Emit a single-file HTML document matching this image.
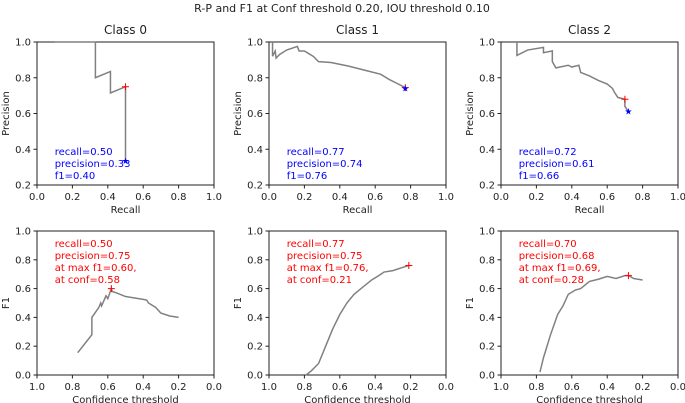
<!DOCTYPE html>
<html><head><meta charset="utf-8"><style>
body{margin:0;background:#fff}
svg{display:block;font-family:"DejaVu Sans","Liberation Sans",sans-serif}
</style></head><body>
<svg id="c" width="685" height="403" viewBox="0 0 685 403">
<text x="342" y="12" text-anchor="middle" font-size="11" fill="#222">R-P and F1  at Conf threshold 0.20, IOU threshold 0.10</text>
</svg>
<script>
const prTitles=["Class 0","Class 1","Class 2"];
const pr0=[[0.1,1.0],[0.33,1.0],[0.33,0.8],[0.415,0.835],[0.415,0.715],[0.5,0.75],[0.5,0.333]];
const pr1=[[0.02,1.0],[0.02,0.92],[0.035,0.95],[0.04,0.91],[0.06,0.93],[0.1,0.955],[0.16,0.975],[0.17,0.95],[0.2,0.95],[0.25,0.92],[0.28,0.89],[0.35,0.885],[0.45,0.865],[0.55,0.84],[0.63,0.82],[0.68,0.79],[0.72,0.77],[0.77,0.745]];
const pr2=[[0.09,1.0],[0.09,0.925],[0.15,0.955],[0.24,0.97],[0.24,0.94],[0.29,0.95],[0.29,0.89],[0.31,0.855],[0.38,0.87],[0.4,0.86],[0.44,0.87],[0.45,0.83],[0.5,0.81],[0.55,0.785],[0.6,0.765],[0.63,0.74],[0.64,0.72],[0.66,0.69],[0.7,0.68],[0.7,0.64],[0.72,0.61]];
const prRed=[[0.5,0.75],[0.77,0.745],[0.70,0.68]];
const prBlue=[[0.5,0.333],[0.77,0.74],[0.72,0.61]];
const prText=[["recall=0.50","precision=0.33","f1=0.40"],["recall=0.77","precision=0.74","f1=0.76"],["recall=0.72","precision=0.61","f1=0.66"]];
const f10=[[0.77,0.155],[0.69,0.28],[0.69,0.40],[0.65,0.47],[0.64,0.5],[0.635,0.48],[0.61,0.55],[0.6,0.53],[0.58,0.60],[0.575,0.58],[0.55,0.57],[0.5,0.545],[0.4,0.525],[0.38,0.52],[0.37,0.50],[0.33,0.47],[0.3,0.43],[0.25,0.41],[0.2,0.40]];
const f11=[[0.79,0.0],[0.76,0.03],[0.72,0.08],[0.68,0.2],[0.64,0.32],[0.6,0.42],[0.56,0.5],[0.52,0.56],[0.48,0.6],[0.42,0.66],[0.38,0.69],[0.35,0.715],[0.3,0.725],[0.25,0.745],[0.21,0.76]];
const f12=[[0.78,0.02],[0.76,0.12],[0.72,0.28],[0.68,0.42],[0.65,0.48],[0.62,0.56],[0.58,0.59],[0.55,0.6],[0.5,0.65],[0.45,0.665],[0.4,0.685],[0.35,0.67],[0.3,0.69],[0.28,0.69],[0.25,0.67],[0.2,0.66]];
const f1Max=[[0.58,0.60],[0.21,0.76],[0.28,0.69]];
const f1Text=[["recall=0.50","precision=0.75","at max f1=0.60,","at conf=0.58"],["recall=0.77","precision=0.75","at max f1=0.76,","at conf=0.21"],["recall=0.70","precision=0.68","at max f1=0.69,","at conf=0.28"]];
const xTicks=["0.0","0.2","0.4","0.6","0.8","1.0"];
const xTicksRev=["1.0","0.8","0.6","0.4","0.2","0.0"];
const prYTicks=["0.2","0.4","0.6","0.8","1.0"];
const f1YTicks=["0.0","0.2","0.4","0.6","0.8","1.0"];

const svg=document.getElementById('c');
const NS='http://www.w3.org/2000/svg';
function mk(tag,attrs,parent){const e=document.createElementNS(NS,tag);for(const k in attrs)e.setAttribute(k,attrs[k]);(parent||svg).appendChild(e);return e;}
const lefts=[37,269,501], W=177;
const prSeries=[pr0,pr1,pr2], f1Series=[f10,f11,f12];

function panel(i,top,bot,ymin,rev,series,yt,xt,xlabel,ylabel,title,txt,txtCol,txtY,markers){
  const L=lefts[i];
  const sx=v=>rev? L+(1-v)*W : L+v*W;
  const sy=v=>bot-(v-ymin)/(1-ymin)*(bot-top);
  const g=mk('g',{});
  
  
  const fr=mk('rect',{x:L,y:top,width:W,height:bot-top,fill:'none',stroke:'#222','stroke-width':1},g);
  
  
  xt.forEach((t,k)=>{const x=L+k*W/5;
    mk('line',{x1:x,x2:x,y1:bot,y2:bot+3.5,stroke:'#222'},g);
    const e=mk('text',{x:x,y:bot+15,'text-anchor':'middle','font-size':10,fill:'#222'},g);e.textContent=t;
    
    });
  yt.forEach(t=>{const y=sy(parseFloat(t));
    mk('line',{x1:L-3.5,x2:L,y1:y,y2:y,stroke:'#222'},g);
    const e=mk('text',{x:L-6,y:y+3.5,'text-anchor':'end','font-size':10,fill:'#222'},g);e.textContent=t;
    
    });
  let e=mk('text',{x:L+W/2,y:bot+28,'text-anchor':'middle','font-size':10,fill:'#222'},g);e.textContent=xlabel;
  
  
  const yc=(top+bot)/2;
  e=mk('text',{x:0,y:0,'text-anchor':'middle','font-size':10,fill:'#222',transform:`translate(${L-28},${yc}) rotate(-90)`},g);e.textContent=ylabel;
  
  
  if(title){e=mk('text',{x:L+W/2,y:top-8,'text-anchor':'middle','font-size':12,fill:'#222'},g);e.textContent=title;
    
    }
  const p=mk('polyline',{points:series.map(d=>sx(d[0])+','+sy(d[1])).join(' '),fill:'none',stroke:'#808080','stroke-width':1.5},g);
  
  
  markers.forEach(m=>{
    const x=sx(m.pt[0]),y=sy(m.pt[1]);
    if(m.type==='plus'){const pg=mk('path',{d:`M${x-3.5},${y}H${x+3.5}M${x},${y-3.5}V${y+3.5}`,stroke:'#f00','stroke-width':1},g);
      
      }
    else{const s=mk('text',{x:x,y:y+3,'text-anchor':'middle','font-size':9,fill:'#00f'},g);s.textContent='★';
      
      }
  });
  txt.forEach((t,k)=>{const e2=mk('text',{x:sx(rev?0.9:0.1),y:txtY+k*12,'font-size':10,fill:txtCol},g);e2.textContent=t;
    
    });
}
for(let i=0;i<3;i++){
  panel(i,42,185,0.2,false,prSeries[i],prYTicks,xTicks,'Recall','Precision',prTitles[i],prText[i],'#00f',155,
    [{type:'plus',pt:prRed[i]},{type:'star',pt:prBlue[i]}]);
  panel(i,231,375,0,true,f1Series[i],f1YTicks,xTicksRev,'Confidence threshold','F1',null,f1Text[i],'#f00',247,
    [{type:'plus',pt:f1Max[i]}]);
}
</script>
</body></html>
